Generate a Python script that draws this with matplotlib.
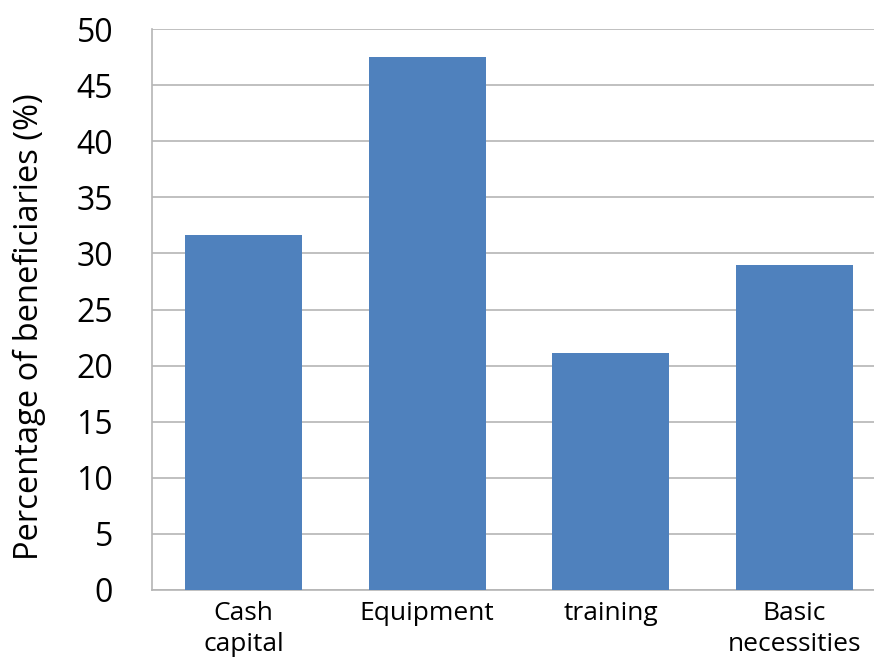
import matplotlib
matplotlib.use("Agg")
import matplotlib.pyplot as plt

# Support types and share of beneficiaries
categories = ["Cash\ncapital", "Equipment", "training", "Basic\nnecessities"]
percentages = [31.6, 47.5, 21.1, 29.0]
yticks = [0, 5, 10, 15, 20, 25, 30, 35, 40, 45, 50]

plt.rcParams['font.family'] = ['Open Sans', 'DejaVu Sans']

fig = plt.figure(figsize=(8.74, 6.68), dpi=100)
# right edge runs a bit past the figure, the original is cropped there
ax = fig.add_axes([152 / 874, 78 / 668, 734 / 874, 561 / 668])

x = range(len(categories))
ax.bar(x, percentages, width=0.64, color="#4F81BD", zorder=3)

ax.set_xlim(-0.5, len(categories) - 0.5)
ax.set_ylim(0, 50)
ax.set_yticks(yticks)
ax.set_xticks(list(x))
ax.set_xticklabels(categories, fontsize=19, linespacing=1.3)
ax.tick_params(axis='y', labelsize=23, length=0, pad=28)
ax.tick_params(axis='x', length=0, pad=8)

ax.yaxis.grid(True, color="#B5B5B5", linewidth=1.2, zorder=0)
for side in ["top", "right"]:
    ax.spines[side].set_visible(False)
for side in ["left", "bottom"]:
    ax.spines[side].set_color("#B5B5B5")
    ax.spines[side].set_linewidth(1.2)

ax.set_ylabel("Percentage of beneficiaries (%)", fontsize=23.5)
ax.yaxis.set_label_coords(-0.145, 0.47)

fig.savefig("out.png", dpi=100)
